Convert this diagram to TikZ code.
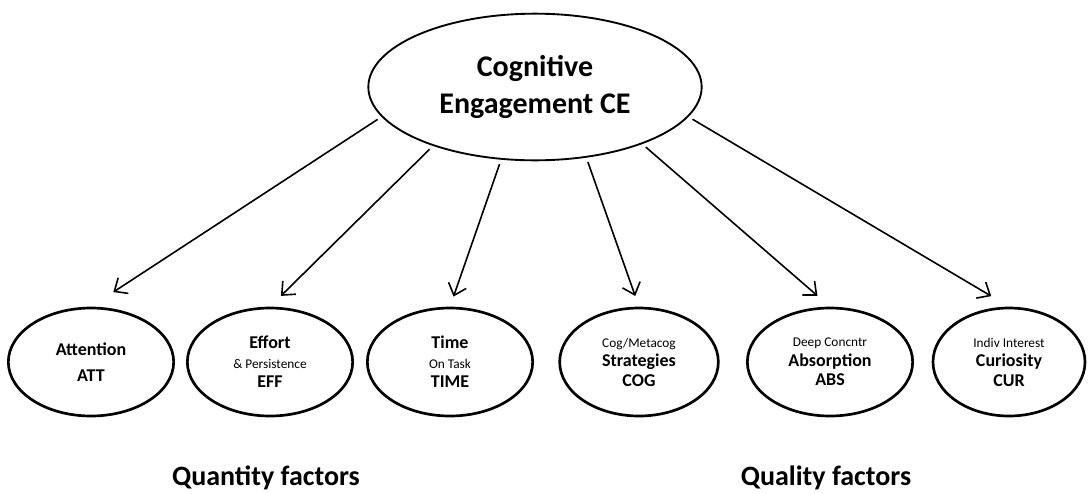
\documentclass[tikz,border=0pt]{standalone}
\usepackage{fontspec}
\setmainfont{Carlito}
\usetikzlibrary{shapes.geometric,arrows.meta}

\newcommand{\minortext}[1]{{\mdseries\fontsize{10}{12}\selectfont #1}}

\tikzset{
  factor/.style={draw,ellipse,line width=2pt,minimum width=124pt,minimum height=81pt,
                 inner sep=0pt,align=center,font=\bfseries\fontsize{13.5}{14.6}\selectfont},
  link/.style={-{Straight Barb[length=8pt,width=14pt]},line width=1.2pt,shorten <=3.5pt},
  group/.style={font=\bfseries\fontsize{21}{25}\selectfont}
}

\begin{document}
\begin{tikzpicture}[x=0.75pt,y=-0.75pt]
  \useasboundingbox (0,0) rectangle (1088,493);
  \node[draw,ellipse,line width=1.4pt,minimum width=250pt,minimum height=110pt,inner sep=0pt,
        align=center,font=\bfseries\fontsize{22.5}{28}\selectfont] (CE) at (535,87) {Cognitive\\Engagement CE};
  \node[factor] (ATT)  at (91,362)  {Attention\\[4.5pt]ATT};
  \node[factor] (EFF)  at (270,362) {Effort\\\minortext{\& Persistence}\\EFF};
  \node[factor] (TIME) at (450,362) {Time\\\minortext{On Task}\\TIME};
  \node[factor,minimum width=119pt] (COG)  at (639,362) {\minortext{Cog/Metacog}\\Strategies\\COG};
  \node[factor] (ABS)  at (830,362) {\minortext{Deep Concntr}\\Absorption\\ABS};
  \node[factor,minimum width=114pt] (CUR)  at (1009,362) {\minortext{Indiv Interest}\\Curiosity\\CUR};
  \draw[link,shorten >=20pt]   (CE.191) -- (ATT.north);
  \draw[link,shorten >=11.5pt] (CE.210) -- (EFF.north);
  \draw[link,shorten >=8pt]    (CE.245) -- (TIME.north);
  \draw[link,shorten >=8.5pt]  (CE.306) -- (COG.north);
  \draw[link,shorten >=12.5pt] (CE.332) -- (ABS.north);
  \draw[link,shorten >=15.5pt] (CE.349) -- (CUR.north);
  \node[group] (quantity) at (266,478) {Quantity factors};
  \node[group] (quality)  at (826,478) {Quality factors};
\end{tikzpicture}
\end{document}
